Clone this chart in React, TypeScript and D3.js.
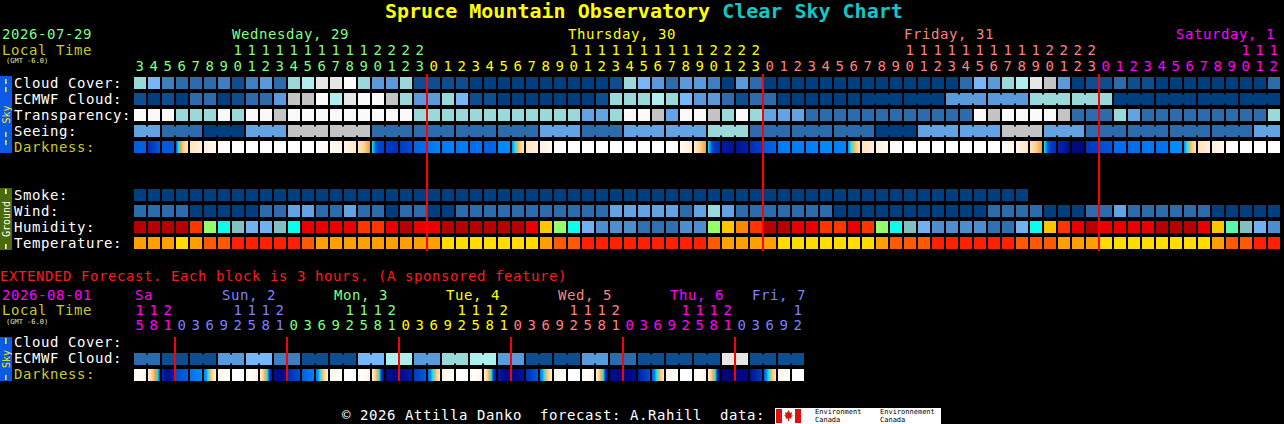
import React, { useLayoutEffect } from 'react';
import * as d3 from 'd3';

const FONT = '"DejaVu Sans Mono", monospace';

// ---------- main (hourly) forecast ----------
const mainDate = '2026-07-29';
const mainDays = ['Wednesday, 29', 'Thursday, 30', 'Friday, 31', 'Saturday, 1'];
const mainDayHours = [[3, 23], [0, 23], [0, 23], [0, 12]];

// cloud cover in %
const cloudCover = [
  60, 50, 30, 20, 20, 20, 30, 10, 30, 40,
  20, 60, 70, 90, 90, 100, 60, 40, 40, 60,
  10, 10, 10, 10, 0, 0, 0, 0, 0, 0,
  0, 0, 0, 0, 10, 60, 50, 40, 20, 40,
  40, 30, 0, 40, 20, 0, 0, 0, 0, 0,
  0, 0, 0, 0, 0, 0, 0, 0, 0, 20,
  50, 40, 60, 70, 90, 80, 40, 0, 10, 10,
  20, 10, 10, 0, 0, 0, 0, 0, 0, 0,
  0, 20,
];
const ecmwfCloud = [
  10, 0, 10, 0, 20, 20, 0, 10, 20, 20,
  40, 80, 80, 100, 70, 90, 100, 100, 80, 60,
  40, 40, 60, 50, 10, 10, 0, 0, 0, 0,
  0, 0, 0, 10, 60, 60, 60, 70, 60, 50,
  40, 40, 20, 10, 20, 20, 0, 0, 0, 0,
  0, 0, 0, 0, 0, 0, 0, 0, 40, 40,
  40, 40, 40, 40, 60, 60, 60, 60, 60, 60,
  0, 0, 0, 0, 0, 0, 0, 0, 0, 0,
  0, 0,
];
const ecmwfBlockStart = 52; // 3-hour blocks from here on

// 0 = too cloudy, 1 poor .. 5 transparent
const transparency = [
  0, 0, 0, 2, 2, 2, 0, 2, 0, 0,
  1, 0, 0, 0, 0, 0, 0, 0, 0, 0,
  2, 2, 2, 2, 2, 2, 2, 2, 2, 2,
  2, 2, 3, 3, 2, 0, 0, 1, 3, 0,
  0, 1, 2, 0, 2, 3, 3, 3, 4, 4,
  4, 4, 4, 4, 4, 4, 4, 4, 4, 4,
  0, 1, 0, 0, 0, 0, 1, 4, 4, 4,
  2, 3, 4, 4, 4, 4, 4, 4, 4, 4,
  4, 2,
];
// 0 = too cloudy, 1 bad .. 5 excellent
const seeing = [
  3, 3, 4, 4, 4, 5, 5, 5, 3, 3,
  3, 1, 1, 1, 1, 1, 1, 4, 4, 4,
  4, 4, 4, 4, 4, 4, 4, 4, 4, 3,
  3, 3, 4, 4, 4, 3, 3, 3, 3, 3,
  3, 2, 2, 2, 4, 4, 4, 4, 4, 4,
  4, 4, 4, 5, 5, 5, 3, 3, 3, 3,
  3, 3, 1, 1, 1, 3, 3, 3, 4, 4,
  4, 4, 4, 4, 4, 4, 4, 4, 4, 4,
  3, 3,
];
// sky brightness across each hour: -4 day, -1 twilight, 0 end of twilight, 6 darkest
const darkness = [
  [3.1, 3.0], [4.6, 3.2], [3.2], [3.6, 0.2, -0.6, -1.3, -1.8, -2.1], [-2.1, -2.8],
  [-2.8, -3.4], [-3.4, -4], [-4], [-4], [-4],
  [-4], [-4], [-4], [-4, -3.6], [-3.6, -3.0],
  [-3.0, -2.2], [-2.2, -1.5, -0.6], [0, 3.5, 3.8, 4.0], [4.1, 4.5], [4.2, 3.6],
  [2.8, 2.6], [2.3, 1.8], [2.2, 1.9], [2.3, 2.0], [2.6, 2.4],
  [3.0, 2.8], [1.8, 1.6], [1.6, 0, -0.8, -1.6, -2.1], [-2.1, -2.8], [-2.8, -3.5],
  [-3.5, -4], [-4], [-4], [-4], [-4],
  [-4], [-4], [-4], [-4, -3.6], [-3.5, -2.6],
  [-2.5, -1.5, -0.6], [0, 3.8, 4.3, 4.6], [5.2, 5.6], [5.5, 5.0], [4.6, 4.0],
  [3.2, 2.8], [2.2, 2.0], [2.1, 2.0], [2.1, 1.9], [1.8, 1.6],
  [2.1, 1.8], [1.8, 0, -0.8, -1.6, -2.0], [-2.0, -2.8], [-2.8, -3.5], [-3.5, -4],
  [-4], [-4], [-4], [-4], [-4],
  [-4], [-4], [-3.8, -3.2], [-3.0, -2.2], [-2.1, -1.4, -0.6],
  [0, 3.6, 4.2, 4.6], [4.8, 5.8], [5.9, 6.0], [4.4, 4.0], [3.6, 3.3],
  [2.6], [2.6, 2.5], [2.2], [2.5, 2.3], [1.7, 1.6],
  [1.7, 0, -0.8, -1.6, -2.0], [-2.0, -2.8], [-2.8, -3.4], [-3.4, -4], [-4],
  [-4], [-4],
];
// smoke in ug/m^3
const smoke = [
  0, 0, 0, 0, 0, 0, 0, 0, 0, 0,
  0, 0, 0, 0, 0, 0, 0, 0, 0, 0,
  0, 0, 0, 0, 0, 0, 0, 0, 0, 0,
  0, 0, 0, 0, 0, 0, 0, 0, 0, 0,
  0, 0, 0, 0, 0, 0, 0, 0, 0, 0,
  0, 0, 0, 0, 0, 0, 0, 0, 0, 0,
  0, 0, 0, 0,
];
// wind in mph
const wind = [
  8, 8, 8, 8, 3, 3, 3, 3, 3, 8,
  8, 14, 14, 8, 8, 14, 8, 8, 3, 8,
  8, 3, 3, 8, 8, 8, 8, 8, 8, 8,
  8, 8, 8, 8, 14, 14, 14, 14, 14, 8,
  14, 20, 14, 8, 8, 8, 8, 8, 8, 8,
  3, 3, 3, 3, 3, 3, 3, 3, 3, 3,
  3, 8, 8, 8, 8, 3, 3, 3, 8, 8,
  14, 8, 8, 8, 8, 8, 8, 3, 3, 3,
  3, 3,
];
// relative humidity in %
const humidity = [
  92, 92, 92, 92, 82, 62, 52, 47, 42, 42,
  47, 52, 87, 87, 87, 87, 82, 82, 87, 92,
  87, 87, 92, 92, 92, 92, 92, 92, 87, 72,
  62, 52, 42, 37, 37, 37, 32, 32, 32, 37,
  37, 62, 72, 77, 82, 92, 92, 87, 87, 82,
  82, 87, 82, 62, 52, 47, 42, 37, 37, 37,
  37, 32, 32, 42, 52, 72, 82, 87, 92, 87,
  87, 87, 87, 92, 92, 92, 87, 72, 57, 47,
  42, 37,
];
// temperature in F
const temperature = [
  72, 72, 72, 66, 72, 81, 81, 88, 88, 88,
  88, 88, 81, 72, 72, 72, 72, 72, 72, 72,
  72, 72, 66, 66, 66, 66, 66, 66, 66, 72,
  81, 81, 88, 88, 88, 88, 88, 88, 88, 88,
  88, 81, 72, 72, 72, 72, 66, 66, 66, 66,
  66, 66, 66, 72, 81, 81, 81, 88, 88, 88,
  88, 88, 88, 81, 81, 81, 72, 72, 72, 66,
  66, 66, 66, 66, 66, 66, 66, 72, 81, 81,
  88, 88,
];

// ---------- extended (3-hourly) forecast ----------
const extDate = '2026-08-01';
const extDays = ['Sa', 'Sun, 2', 'Mon, 3', 'Tue, 4', 'Wed, 5', 'Thu, 6', 'Fri, 7'];
const extDayHours = [[15, 21], [0, 21], [0, 21], [0, 21], [0, 21], [0, 21], [0, 12]];
const extEcmwf = [
  20, 20, 10, 10, 10, 10, 40, 40, 50, 50,
  30, 30, 10, 10, 10, 10, 50, 50, 70, 70,
  40, 40, 60, 60, 70, 70, 40, 40, 10, 10,
  10, 10, 40, 40, 20, 20, 10, 10, 10, 10,
  10, 10, 90, 90, 10, 10, 10, 10,
];
const extDarkness = [
  [-4, -3.2], [-2.6, -2.0, -1.3, -0.6, 0.2, 4.2], [4.5, 5.8, 5.5, 4.8], [3.6, 3.0],
  [2.5, 1.6], [1.6, 1.4, 0, -0.8, -1.6, -2.2, -2.8], [-3.0, -4], [-4],
  [-4, -3.2], [-2.6, -1.8, -0.8, 0, 4.6, 5.2], [5.6, 6, 5.4], [4.6, 3.6],
  [3.0, 2.0], [1.8, 1.5, 0, -0.8, -1.6, -2.2, -2.8], [-3.0, -4], [-4],
  [-4, -3.2], [-2.6, -1.8, -0.8, 0, 4.8, 5.4], [5.8, 6], [5.8, 5.2],
  [4.2, 3.2], [2.6, 1.6, 0, -0.8, -1.8, -2.6], [-3.0, -4], [-4],
  [-4, -3.2], [-2.6, -1.8, -0.8, 0, 4.5, 5.0], [5.0, 6, 5.6], [6, 5.6],
  [4.6, 3.2], [2.0, 1.5, 0, -0.8, -1.6, -2.2, -2.8], [-3.0, -4], [-4],
  [-4, -3.2], [-2.6, -1.8, -0.8, 0, 5.0, 5.6], [5.8, 6], [6, 5.8],
  [5.0, 3.6], [3.2, 2.0, 0, -0.8, -1.6, -2.4], [-3.0, -4], [-4],
  [-4, -3.2], [-2.6, -1.8, -0.8, 0, 5.2, 5.8], [6, 6.3], [6],
  [5.6, 4.2], [3.2, 1.5, 0, -0.8, -1.6, -2.4], [-3.0, -4], [-4],
];

// ---------- colour scales ----------
const dayColors = ['#80ff80', '#ffff00', '#ff8080', '#ff00ff', '#8080ff'];

const cloudColor = d3.scaleThreshold<number, string>()
  .domain([5, 15, 25, 35, 45, 55, 65, 75, 85, 95])
  .range(['#003f7f', '#0e4e8e', '#2c6cac', '#3f7fbf', '#5a9ada', '#77b7f7',
    '#99d9d9', '#aeeeee', '#c4c4c4', '#e6e6e6', '#fbfbfb']);
const skyQuality = ['#fafafa', '#c4c4c4', '#99d9d9', '#63a3e3', '#2c6cac', '#003f7f'];
const smokeColor = d3.scaleThreshold<number, string>()
  .domain([2, 5, 10, 20, 40, 60, 80, 100, 200])
  .range(['#003f7f', '#2c6cac', '#63a3e3', '#99d9d9', '#c4c4c4', '#dcc490',
    '#c8a050', '#a87830', '#805020', '#503010']);
const windColor = d3.scaleThreshold<number, string>()
  .domain([6, 12, 17, 29, 46])
  .range(['#003f7f', '#2c6cac', '#63a3e3', '#99d9d9', '#c4c4c4', '#fafafa']);
const humidityColor = d3.scaleThreshold<number, string>()
  .domain([25, 30, 35, 40, 45, 50, 55, 60, 65, 70, 75, 80, 85, 90, 95])
  .range(['#08035d', '#0d4d8d', '#3070b0', '#4e8ece', '#71b1f1', '#80c0c0',
    '#09feed', '#55faad', '#94fe6a', '#eafb16', '#fec600', '#fc8602',
    '#fe3401', '#ea0000', '#b70000', '#e10000']);
const tempColor = d3.scaleThreshold<number, string>()
  .domain([59, 68, 77, 86, 95])
  .range(['#eafb16', '#ffdd00', '#ffa000', '#ff5a00', '#ff2000', '#c00000']);
const darkColor = d3.scaleLinear<string>()
  .domain([-4, -3, -2, -1, -0.5, 0, 1, 2, 3, 4, 5, 6, 6.5])
  .range(['#ffffff', '#fff4e6', '#ffe2b8', '#fcc070', '#f29a20', '#10e8f8',
    '#00a0ff', '#0080f8', '#0060e0', '#0040c8', '#0020a8', '#000880', '#000050'])
  .clamp(true);

// ---------- layout ----------
const mainHours = mainDayHours.flatMap(([a, b]) => d3.range(a, b + 1));
const mainDayOf = mainDayHours.flatMap(([a, b], i) => d3.range(a, b + 1).map(() => i));
const extHours = extDayHours.flatMap(([a, b]) => d3.range(a, b + 1, 3));
const extDayOf = extDayHours.flatMap(([a, b], i) => d3.range(a, b + 1, 3).map(() => i));

const xMain = d3.scaleBand<number>()
  .domain(d3.range(mainHours.length))
  .range([134, 134 + mainHours.length * 14 - 2])
  .paddingInner(2 / 14);
const xExt = d3.scaleBand<number>()
  .domain(d3.range(extHours.length))
  .range([134, 134 + extHours.length * 14 - 2])
  .paddingInner(2 / 14);

const mainRows = ['cloud', 'ecmwf', 'transp', 'seeing', 'dark', 'gap1', 'gap2', 'smoke', 'wind', 'hum', 'temp'];
const yMain = d3.scaleBand<string>().domain(mainRows).range([77, 77 + 11 * 16 - 4]).paddingInner(0.25);
const extRows = ['cloud', 'ecmwf', 'dark'];
const yExt = d3.scaleBand<string>().domain(extRows).range([337, 337 + 3 * 16 - 4]).paddingInner(0.25);

const CH = 9; // character advance of the label font

const txt = (size = 14) => ({
  fontFamily: FONT,
  fontSize: size,
  letterSpacing: size === 14 ? 0.57 : 0,
  whiteSpace: 'pre' as const,
});

function Cells({ values, color, x, y, bridge }: {
  values: number[];
  color: (v: number) => string;
  x: d3.ScaleBand<number>;
  y: number;
  bridge?: (c: number) => boolean;
}) {
  const bw = x.bandwidth();
  return (
    <g>
      {values.map((v, c) => (
        <rect key={c} x={x(c)} y={y} width={bw} height={bw} fill={color(v)} />
      ))}
      {bridge && values.map((v, c) =>
        c < values.length - 1 && bridge(c) ? (
          <rect key={'b' + c} x={(x(c) as number) + bw - 0.5} y={y + 1.5}
            width={x.step() - bw + 1} height={bw - 3} fill={color(v)} />
        ) : null)}
    </g>
  );
}

function Darkness({ values, x, y, id }: { values: number[][]; x: d3.ScaleBand<number>; y: number; id: string }) {
  const bw = x.bandwidth();
  return (
    <g>
      <defs>
        {values.map((stops, c) => stops.length > 1 ? (
          <linearGradient key={c} id={`${id}${c}`} x1="0" x2="1" y1="0" y2="0">
            {stops.map((s, i) => (
              <stop key={i} offset={i / (stops.length - 1)} stopColor={darkColor(s)} />
            ))}
          </linearGradient>
        ) : null)}
      </defs>
      {values.map((stops, c) => (
        <rect key={c} x={x(c)} y={y} width={bw} height={bw}
          fill={stops.length > 1 ? `url(#${id}${c})` : darkColor(stops[0])} />
      ))}
    </g>
  );
}

function HourLabels({ hours, dayOf, x, tensY, onesY, colorOffset }: {
  hours: number[]; dayOf: number[]; x: d3.ScaleBand<number>; tensY: number; onesY: number; colorOffset: number;
}) {
  return (
    <g style={txt()} textAnchor="middle">
      {hours.map((h, c) => {
        const cx = (x(c) as number) + x.bandwidth() / 2;
        const fill = dayColors[(dayOf[c] + colorOffset) % dayColors.length];
        return (
          <g key={c} fill={fill}>
            {h >= 10 && <text x={cx} y={tensY}>{Math.floor(h / 10)}</text>}
            <text x={cx} y={onesY}>{h % 10}</text>
          </g>
        );
      })}
    </g>
  );
}

function dayStarts(dayOf: number[]) {
  return dayOf.map((d, c) => (c === 0 || dayOf[c - 1] !== d ? c : -1)).filter((c) => c >= 0);
}

function SideBar({ y, h, fill, label, textFill, dashes }: {
  y: number; h: number; fill: string; label: string; textFill: string; dashes: number[][];
}) {
  return (
    <g>
      <rect x={0} y={y} width={12} height={h} fill={fill} />
      {dashes.map(([a, b], i) => (
        <rect key={i} x={5} y={a} width={1.6} height={b - a} fill={textFill} />
      ))}
      <text transform={`translate(9.5,${y + h / 2}) rotate(-90)`} textAnchor="middle"
        fill={textFill} style={{ fontFamily: FONT, fontSize: 10 }}>{label}</text>
    </g>
  );
}

export default function App() {
  useLayoutEffect(() => {
    document.body.style.margin = '0';
    document.body.style.background = '#000';
  }, []);

  const mainStarts = dayStarts(mainDayOf);
  const extStarts = dayStarts(extDayOf);
  const mainRight = (xMain(mainHours.length - 1) as number) + xMain.bandwidth();
  const extRight = (xExt(extHours.length - 1) as number) + xExt.bandwidth();
  const bw = xMain.bandwidth();

  const skyLabels: [string, string][] = [
    ['cloud', 'Cloud Cover:'], ['ecmwf', 'ECMWF Cloud:'], ['transp', 'Transparency:'],
    ['seeing', 'Seeing:'], ['dark', 'Darkness:'],
    ['smoke', 'Smoke:'], ['wind', 'Wind:'], ['hum', 'Humidity:'], ['temp', 'Temperature:'],
  ];
  const extLabels: [string, string][] = [
    ['cloud', 'Cloud Cover:'], ['ecmwf', 'ECMWF Cloud:'], ['dark', 'Darkness:'],
  ];

  return (
    <svg width={1284} height={424} style={{ display: 'block', background: '#000' }}>
      <rect width={1284} height={424} fill="#000" />

      {/* title */}
      <text x={385} y={18} style={{ fontFamily: FONT, fontSize: 20, fontWeight: 'bold', whiteSpace: 'pre' }}>
        <tspan fill="#ffff00">Spruce Mountain Observatory </tspan>
        <tspan fill="#10c8c8">Clear Sky Chart</tspan>
      </text>

      {/* main header */}
      <text x={2} y={39} fill={dayColors[0]} style={txt()}>{mainDate}</text>
      <text x={2} y={55} fill="#c8c832" style={txt()}>Local Time</text>
      <text x={6} y={63} fill="#e6e6a0" style={txt(7)}>(GMT -6.0)</text>
      {mainDays.map((name, i) => {
        const start = mainStarts[i];
        const c10 = mainHours.findIndex((h, c) => c >= start && mainDayOf[c] === i && h === 10);
        const w = name.length * CH;
        const lx = Math.min(xMain(c10 >= 0 ? c10 : start) as number, mainRight - 5 - w);
        return <text key={name} x={lx} y={39} fill={dayColors[i % dayColors.length]} style={txt()}>{name}</text>;
      })}
      <HourLabels hours={mainHours} dayOf={mainDayOf} x={xMain} tensY={55} onesY={70.5} colorOffset={0} />

      {/* main labels */}
      {skyLabels.map(([k, name]) => (
        <text key={k} x={14} y={(yMain(k) as number) + 10.5} fill={k === 'dark' ? '#c8c832' : '#ffffff'} style={txt()}>
          {name}
        </text>
      ))}

      {/* main rows */}
      <Cells values={cloudCover} color={cloudColor} x={xMain} y={yMain('cloud') as number} />
      <Cells values={ecmwfCloud} color={cloudColor} x={xMain} y={yMain('ecmwf') as number}
        bridge={(c) => c >= ecmwfBlockStart && Math.floor((c - ecmwfBlockStart) / 3) === Math.floor((c + 1 - ecmwfBlockStart) / 3)} />
      <Cells values={transparency} color={(v) => skyQuality[v]} x={xMain} y={yMain('transp') as number} />
      <Cells values={seeing} color={(v) => skyQuality[v]} x={xMain} y={yMain('seeing') as number}
        bridge={(c) => Math.floor((c + 1) / 3) === Math.floor((c + 2) / 3)} />
      <Darkness values={darkness} x={xMain} y={yMain('dark') as number} id="dkm" />
      <Cells values={smoke} color={smokeColor} x={xMain} y={yMain('smoke') as number} />
      <Cells values={wind} color={windColor} x={xMain} y={yMain('wind') as number} />
      <Cells values={humidity} color={humidityColor} x={xMain} y={yMain('hum') as number} />
      <Cells values={temperature} color={tempColor} x={xMain} y={yMain('temp') as number} />

      {/* midnight lines */}
      {mainStarts.slice(1).map((c) => (
        <rect key={c} x={Math.round(xMain(c) as number) - 2} y={74} width={2}
          height={(yMain('temp') as number) + bw + 2 - 74} fill="#ff0000" />
      ))}

      <SideBar y={76} h={77} fill="#0a5ae6" label="Sky" textFill="#ffe800"
        dashes={[[79, 84], [87, 92], [132, 137], [140, 145]]} />
      <SideBar y={188} h={62} fill="#4c6a0c" label="Ground" textFill="#ffffff"
        dashes={[[189, 194], [244, 249]]} />

      {/* extended */}
      <text x={0} y={281} fill="#ff1a1a" style={txt()}>EXTENDED Forecast. Each block is 3 hours. (A sponsored feature)</text>
      <text x={2} y={300} fill={dayColors[3]} style={txt()}>{extDate}</text>
      <text x={2} y={315} fill="#c8c832" style={txt()}>Local Time</text>
      <text x={6} y={323.5} fill="#e6e6a0" style={txt(7)}>(GMT -6.0)</text>
      {extDays.map((name, i) => {
        const start = xExt(extStarts[i]) as number;
        const next = i + 1 < extStarts.length ? (xExt(extStarts[i + 1]) as number) : extRight + 2;
        const w = name.length * CH;
        const lx = next - start < 56 ? start + 1 : Math.min(start + 46, next - w);
        return <text key={name} x={lx} y={300} fill={dayColors[(i + 3) % dayColors.length]} style={txt()}>{name}</text>;
      })}
      <HourLabels hours={extHours} dayOf={extDayOf} x={xExt} tensY={315} onesY={330} colorOffset={3} />

      {extLabels.map(([k, name]) => (
        <text key={k} x={14} y={(yExt(k) as number) + 9.5} fill={k === 'dark' ? '#c8c832' : '#ffffff'} style={txt()}>
          {name}
        </text>
      ))}
      <Cells values={extEcmwf} color={cloudColor} x={xExt} y={yExt('ecmwf') as number}
        bridge={(c) => Math.floor(c / 2) === Math.floor((c + 1) / 2)} />
      <Darkness values={extDarkness} x={xExt} y={yExt('dark') as number} id="dke" />
      {extStarts.slice(1).map((c) => (
        <rect key={c} x={Math.round(xExt(c) as number) - 2} y={337} width={2} height={44} fill="#ff0000" />
      ))}
      <SideBar y={337} h={44} fill="#0a5ae6" label="Sky" textFill="#ffe800"
        dashes={[[338, 344], [375, 380]]} />

      {/* footer */}
      <text x={342} y={420} fill="#ffffff" style={txt()}>© 2026 Attilla Danko  forecast: A.Rahill  data:</text>
      <g>
        <rect x={775} y={408} width={166} height={16} fill="#ffffff" />
        <rect x={776} y={409} width={6} height={14} fill="#e01010" />
        <rect x={795} y={409} width={6} height={14} fill="#e01010" />
        <path d="M788.5,410 l1.5,3 l2,-1 l-0.6,3.6 l1.6,-0.6 l-2,2.6 l0.6,1 h-2.6 v2.4 h-1 v-2.4 h-2.6 l0.6,-1 l-2,-2.6 l1.6,0.6 l-0.6,-3.6 l2,1 z"
          fill="#e01010" />
        <g fill="#000" style={{ fontFamily: FONT, fontSize: 7 }}>
          <text x={815} y={414}>Environment</text>
          <text x={815} y={421.5}>Canada</text>
          <text x={880} y={414}>Environnement</text>
          <text x={880} y={421.5}>Canada</text>
        </g>
      </g>
    </svg>
  );
}
